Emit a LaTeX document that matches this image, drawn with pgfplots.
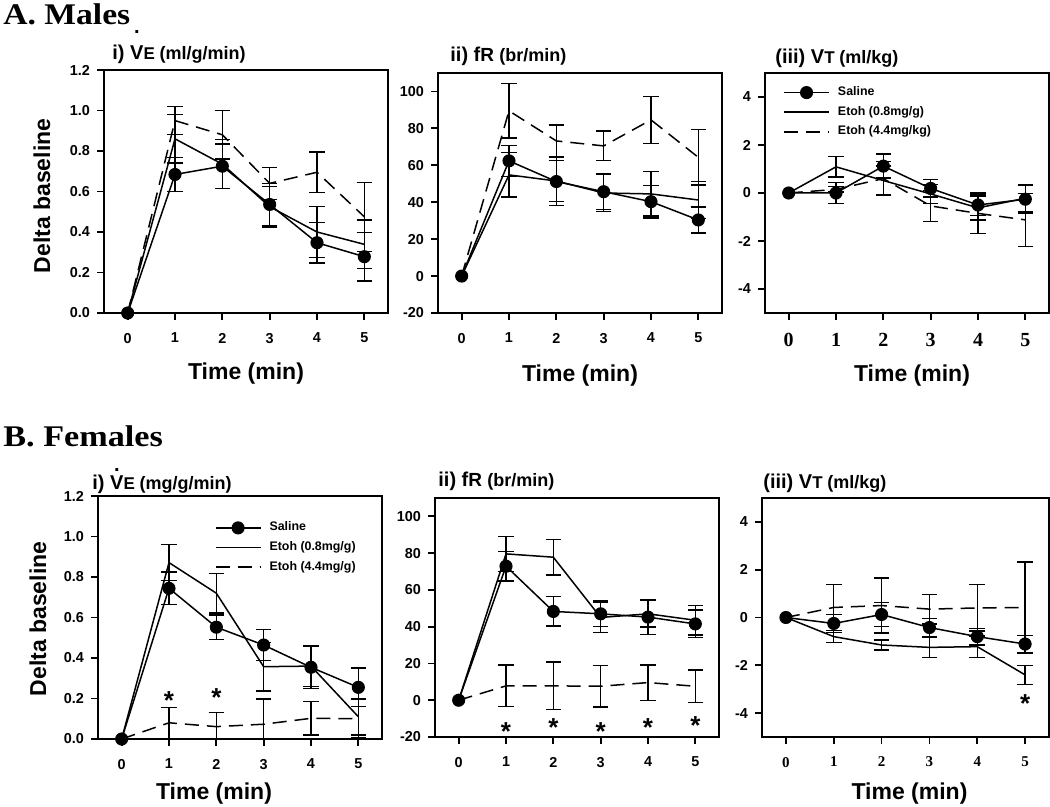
\documentclass[border=0pt]{standalone}
\usepackage{fontspec}
\setmainfont{Liberation Sans}
\newfontfamily\serif{Liberation Serif}
\usepackage{graphicx}
\usepackage{pgfplots}
\usepackage{pgfplotstable}
\pgfplotsset{compat=1.18}

% x: time, s: saline, a: Etoh 0.8, b: Etoh 4.4 ; *e = error
\pgfplotstableread{
x s se a ae b be
0 0 0 0 0 0 0
1 0.684 0.083 0.86 0.12 0.95 0.07
2 0.725 0.11 0.735 0.12 0.88 0.12
3 0.536 0.105 0.525 0.10 0.64 0.08
4 0.347 0.10 0.40 0.125 0.695 0.10
5 0.278 0.12 0.339 0.12 0.475 0.17
}\AmVE
\pgfplotstableread{
x s se a ae b be
0 0 0 0 0 0 0
1 62.4 8.3 54.8 12 89.5 14.7
2 51.2 13 51.5 11 73.2 8.6
3 45.7 9.6 45 10 70.5 8
4 40.3 8.8 44.5 12 84.6 12.7
5 30.4 7 41.2 10 64.3 15
}\AmfR
\pgfplotstableread{
x s se a ae b be
0 0 0 0 0 0 0
1 0 0.45 1.09 0.42 0.15 0.11
2 1.12 0.5 0.52 0.6 0.6 0.7
3 0.19 0.36 -0.04 0.4 -0.54 0.65
4 -0.5 0.45 -0.62 0.5 -0.85 0.85
5 -0.26 0.58 -0.22 0.56 -1.12 1.1
}\AmVT
\pgfplotstableread{
x s se a ae b be
0 0 0 0 0 0 0
1 0.744 0.08 0.871 0.09 0.08 0.077
2 0.552 0.06 0.72 0.098 0.061 0.07
3 0.464 0.075 0.357 0.12 0.073 0.125
4 0.354 0.105 0.36 0.10 0.102 0.082
5 0.255 0.095 0.11 0.09 0.10 0.095
}\BfVE
\pgfplotstableread{
x s se a ae b be
0 0 0 0 0 0 0
1 72.9 8 79.6 9.4 7.8 11.3
2 48.3 8 77.8 9.7 7.8 13
3 47 7 45 8 7.6 11.3
4 45.2 9.5 47 7.2 9.6 9.6
5 41.5 7.5 43.5 8 7.6 8.9
}\BffR
\pgfplotstableread{
x s se a ae b be
0 0 0 0 0 0 0
1 -0.25 0.38 -0.8 0.26 0.42 0.95
2 0.125 0.5 -1.15 0.21 0.5 1.15
3 -0.42 0.38 -1.25 0.42 0.35 0.62
4 -0.8 0.35 -1.22 0.45 0.4 0.97
5 -1.11 0.37 -2.4 0.39 0.42 1.9
}\BfVT

\newcommand{\Vdot}[1]{\leavevmode\rlap{\hbox to \fontcharwd\font`V{\hss\raisebox{#1}{.}\hss}}V}
\newcommand{\TL}{\bfseries\fontsize{11.5}{13}\selectfont}
\newcommand{\ST}{\bfseries\fontsize{13}{13}\selectfont}
\newcommand{\TA}{\bfseries\fontsize{10}{10}\selectfont}
\newcommand{\TB}{\fontsize{8.5}{9}\selectfont}
\newcommand{\TC}{\fontsize{9}{9}\selectfont}

\pgfplotsset{
  panel/.style={
    scale only axis, width=142pt,
    xmin=-0.5, xmax=5.5, xtick={0,1,2,3,4,5},
    axis line style={line width=0.9pt},
    tick style={line width=0.9pt, black},
    tick align=outside, xtick pos=left, ytick pos=left,
    major tick length=3.5pt,
    ticklabel style={font=\bfseries\fontsize{7.2}{8}\selectfont},
    xticklabel style={yshift=-3pt},
    /pgf/number format/assume math mode=true,
    legend image code/.code={\draw[mark repeat=2,mark phase=2,##1] plot coordinates {(0pt,0pt) (11.25pt,0pt) (22.5pt,0pt)};},
    legend style={draw=none, fill=none, font=\bfseries\fontsize{6.2}{7}\selectfont, inner sep=0pt, row sep=2.6pt, legend cell align=left, nodes={inner sep=0.6pt}},
  },
  vepanel/.style={ymin=0, ymax=1.2, ytick={0,0.2,0.4,0.6,0.8,1.0,1.2},
    yticklabel style={/pgf/number format/.cd, fixed, fixed zerofill, precision=1}},
  frpanel/.style={ymin=-20, ymax=110, ytick={-20,0,20,40,60,80,100}},
  vtpanel/.style={ymin=-5, ymax=5, ytick={-4,-2,0,2,4}},
  sal/.style={black, line width=0.75pt, mark=*, mark size=2.9pt, mark options={solid}},
  eta/.style={black, line width=0.75pt, mark=none},
  etb/.style={black, line width=0.75pt, mark=none, dash pattern=on 7pt off 4pt},
  eb/.style={forget plot, draw=none, mark=none, skip coords between index={0}{1},
    error bars/.cd, y dir=both, y explicit,
    error bar style={draw=black, solid, line width=0.65pt},
    error mark options={draw=black, solid, rotate=90, mark size=3.9pt, line width=0.65pt}},
}

\begin{document}
\begin{tikzpicture}
\path[use as bounding box] (0pt,0pt) rectangle (525pt,403.5pt);

% ---------- headings ----------
\node[anchor=base west, inner sep=0pt, font=\serif\bfseries\fontsize{15}{17}\selectfont] at (1.5pt,391pt) {\scalebox{1.12}[1]{A. Males}};
\node[anchor=base west, inner sep=0pt, font=\serif\bfseries\fontsize{15}{17}\selectfont] at (1.5pt,180pt) {\scalebox{1.14}[1]{B. Females}};

% ---------- A i ----------
\begin{axis}[panel, vepanel, height=121.5pt, at={(52pt,247pt)}, anchor=south west]
\addplot[eb] table[x=x, y=s, y error=se]{\AmVE};
\addplot[eb] table[x=x, y=a, y error=ae]{\AmVE};
\addplot[eb] table[x=x, y=b, y error=be]{\AmVE};
\addplot[sal] table[x=x, y=s]{\AmVE};
\addplot[eta] table[x=x, y=a]{\AmVE};
\addplot[etb] table[x=x, y=b]{\AmVE};
\end{axis}
\node[anchor=base west, inner sep=0pt] at (56pt,373.5pt) {\TA i)~\Vdot{13pt}\TB E \TC(ml/g/min)};
\node[anchor=base, inner sep=0pt, font=\TL] at (123pt,213.5pt) {Time (min)};
\node[rotate=90, inner sep=0pt, font=\TL] at (21pt,305.5pt) {Delta baseline};

% ---------- A ii ----------
\begin{axis}[panel, frpanel, height=120pt, at={(219pt,247pt)}, anchor=south west]
\addplot[eb] table[x=x, y=s, y error=se]{\AmfR};
\addplot[eb] table[x=x, y=a, y error=ae]{\AmfR};
\addplot[eb] table[x=x, y=b, y error=be]{\AmfR};
\addplot[sal] table[x=x, y=s]{\AmfR};
\addplot[eta] table[x=x, y=a]{\AmfR};
\addplot[etb] table[x=x, y=b]{\AmfR};
\end{axis}
\node[anchor=base west, inner sep=0pt] at (225pt,372.5pt) {\TA ii)~f\fontsize{9.5}{9}\selectfont R \TC(br/min)};
\node[anchor=base, inner sep=0pt, font=\TL] at (290pt,212.5pt) {Time (min)};

% ---------- A iii ----------
\begin{axis}[panel, vtpanel, height=120pt, at={(382.5pt,247pt)}, anchor=south west,
  xticklabel style={font=\serif\bfseries\fontsize{10}{11}\selectfont},
  legend style={at={(0.063,0.95)}, anchor=north west}]
\addplot[eb] table[x=x, y=s, y error=se]{\AmVT};
\addplot[eb] table[x=x, y=a, y error=ae]{\AmVT};
\addplot[eb] table[x=x, y=b, y error=be]{\AmVT};
\addplot[sal] table[x=x, y=s]{\AmVT};
\addlegendentry{\hspace{3.5pt}Saline}
\addplot[eta] table[x=x, y=a]{\AmVT};
\addlegendentry{\hspace{3.5pt}Etoh (0.8mg/g)}
\addplot[etb] table[x=x, y=b]{\AmVT};
\addlegendentry{\hspace{3.5pt}Etoh (4.4mg/kg)}
\end{axis}
\node[anchor=base west, inner sep=0pt] at (387.5pt,371.5pt) {\TA (iii)~V\TB T \TC(ml/kg)};
\node[anchor=base, inner sep=0pt, font=\TL] at (456pt,212.5pt) {Time (min)};

% ---------- B i ----------
\begin{axis}[panel, vepanel, height=121.5pt, at={(49pt,34pt)}, anchor=south west,
  legend style={at={(0.41,0.9)}, anchor=north west}]
\addplot[eb] table[x=x, y=s, y error=se]{\BfVE};
\addplot[eb] table[x=x, y=a, y error=ae]{\BfVE};
\addplot[eb] table[x=x, y=b, y error=be]{\BfVE};
\addplot[sal] table[x=x, y=s]{\BfVE};
\addlegendentry{\hspace{3.5pt}Saline}
\addplot[eta] table[x=x, y=a]{\BfVE};
\addlegendentry{\hspace{3.5pt}Etoh (0.8mg/g)}
\addplot[etb] table[x=x, y=b]{\BfVE};
\addlegendentry{\hspace{3.5pt}Etoh (4.4mg/g)}
\node[font=\ST, inner sep=0pt, yshift=-3pt] at (axis cs:1,0.217) {*};
\node[font=\ST, inner sep=0pt, yshift=-3pt] at (axis cs:2,0.234) {*};
\end{axis}
\node[anchor=base west, inner sep=0pt] at (46pt,158.5pt) {\TA i)~\Vdot{9pt}\TB E \TC(mg/g/min)};
\node[anchor=base, inner sep=0pt, font=\TL] at (107pt,3.5pt) {Time (min)};
\node[rotate=90, inner sep=0pt, font=\TL] at (19pt,94pt) {Delta baseline};

% ---------- B ii ----------
\begin{axis}[panel, frpanel, height=119.5pt, at={(217.5pt,35pt)}, anchor=south west]
\addplot[eb] table[x=x, y=s, y error=se]{\BffR};
\addplot[eb] table[x=x, y=a, y error=ae]{\BffR};
\addplot[eb] table[x=x, y=b, y error=be]{\BffR};
\addplot[sal] table[x=x, y=s]{\BffR};
\addplot[eta] table[x=x, y=a]{\BffR};
\addplot[etb] table[x=x, y=b]{\BffR};
\node[font=\ST, inner sep=0pt, yshift=-3pt] at (axis cs:1,-13.6) {*};
\node[font=\ST, inner sep=0pt, yshift=-3pt] at (axis cs:2,-11.8) {*};
\node[font=\ST, inner sep=0pt, yshift=-3pt] at (axis cs:3,-13.6) {*};
\node[font=\ST, inner sep=0pt, yshift=-3pt] at (axis cs:4,-11.5) {*};
\node[font=\ST, inner sep=0pt, yshift=-3pt] at (axis cs:5,-10.3) {*};
\end{axis}
\node[anchor=base west, inner sep=0pt] at (219pt,160pt) {\TA ii)~f\fontsize{9.5}{9}\selectfont R \TC(br/min)};

% ---------- B iii ----------
\begin{axis}[panel, vtpanel, width=143.5pt, height=119.5pt, at={(381pt,35pt)}, anchor=south west,
  xticklabel style={font=\serif\bfseries\fontsize{7.5}{8}\selectfont}]
\addplot[eb] table[x=x, y=s, y error=se]{\BfVT};
\addplot[eb] table[x=x, y=a, y error=ae]{\BfVT};
\addplot[eb] table[x=x, y=b, y error=be]{\BfVT};
\addplot[sal] table[x=x, y=s]{\BfVT};
\addplot[eta] table[x=x, y=a]{\BfVT};
\addplot[etb] table[x=x, y=b]{\BfVT};
\node[font=\ST, inner sep=0pt, yshift=-3pt] at (axis cs:5,-3.37) {*};
\end{axis}
\node[anchor=base west, inner sep=0pt] at (381.5pt,159pt) {\TA (iii)~V\TB T \TC(ml/kg)};
\node[anchor=base, inner sep=0pt, font=\TL] at (454.75pt,3.5pt) {Time (min)};
\end{tikzpicture}
\end{document}
